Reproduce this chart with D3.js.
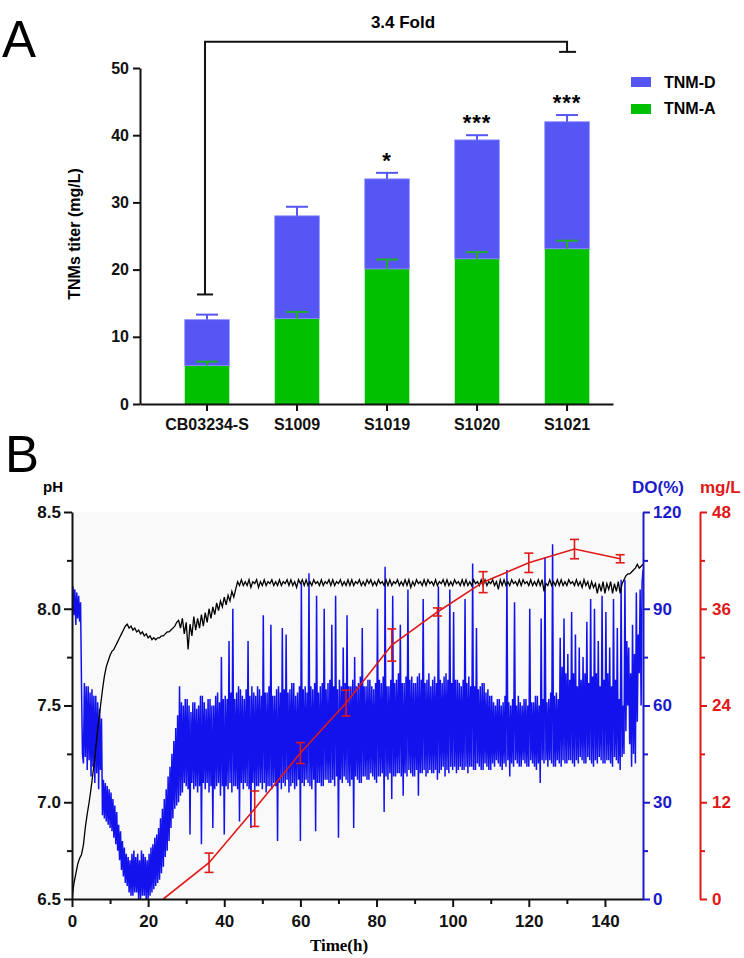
<!DOCTYPE html>
<html><head><meta charset="utf-8">
<script src="https://cdn.jsdelivr.net/npm/d3@7"></script>
<style>
body{margin:0;background:#fff}
svg{display:block}
text{font-family:"Liberation Sans",Arial,sans-serif}
</style>
</head><body>
<svg id="c" width="744" height="958"></svg>
<script>
// ---------- Panel A data ----------
const categories = ["CB03234-S","S1009","S1019","S1020","S1021"];
const tnmA     = [5.7, 12.7, 20.1, 21.6, 23.1];
const tnmAErr  = [0.6, 1.0, 1.4, 1.0, 1.2];
const tnmD     = [6.85, 15.3, 13.4, 17.7, 18.9];
const tnmDErr  = [0.75, 1.35, 0.9, 0.7, 1.0];
const significance = ["", "", "*", "***", "***"];
const yTicksA = [0,10,20,30,40,50];
const seriesNamesA = ["TNM-D","TNM-A"];
const foldFrom = "CB03234-S", foldTo = "S1021", foldLabel = "3.4 Fold";
const foldTop = 53.9, foldLeftEnd = 16.3, foldRightEnd = 52.4;

// ---------- Panel B data ----------
const pHStep = 0.5;   // h between pH samples
const doStep = 0.25;  // h between DO samples
const pH = [
6.50,6.58,6.63,6.68,6.71,6.73,6.78,6.87,6.94,7.00,
7.07,7.15,7.23,7.33,7.42,7.50,7.58,7.65,7.70,7.73,
7.76,7.78,7.79,7.81,7.83,7.85,7.87,7.89,7.91,7.92,
7.90,7.91,7.89,7.90,7.88,7.89,7.87,7.88,7.86,7.87,
7.85,7.86,7.84,7.85,7.84,7.85,7.85,7.86,7.86,7.87,
7.88,7.88,7.89,7.90,7.91,7.93,7.94,7.90,7.95,7.87,
7.93,7.79,7.92,7.86,7.96,7.89,7.95,7.90,7.97,7.91,
7.98,7.93,8.00,7.95,8.01,7.97,8.03,7.99,8.04,8.01,
8.06,8.02,8.07,8.04,8.09,8.06,8.10,8.14,8.12,8.15,
8.12,8.14,8.12,8.15,8.11,8.14,8.13,8.15,8.11,8.14,
8.12,8.15,8.12,8.14,8.13,8.15,8.12,8.14,8.12,8.15,
8.12,8.14,8.13,8.15,8.12,8.15,8.12,8.14,8.11,8.15,
8.13,8.15,8.12,8.15,8.12,8.14,8.12,8.15,8.13,8.14,
8.12,8.15,8.12,8.14,8.13,8.15,8.12,8.15,8.12,8.14,
8.13,8.15,8.12,8.14,8.12,8.15,8.12,8.15,8.12,8.14,
8.13,8.15,8.12,8.14,8.12,8.15,8.13,8.15,8.12,8.14,
8.12,8.15,8.13,8.14,8.12,8.15,8.12,8.15,8.12,8.14,
8.13,8.15,8.12,8.14,8.12,8.15,8.12,8.15,8.11,8.14,
8.12,8.15,8.13,8.14,8.12,8.15,8.12,8.15,8.13,8.14,
8.12,8.15,8.12,8.14,8.13,8.15,8.12,8.15,8.12,8.14,
8.12,8.15,8.13,8.14,8.12,8.15,8.12,8.15,8.12,8.14,
8.12,8.15,8.13,8.14,8.12,8.15,8.12,8.15,8.12,8.14,
8.13,8.15,8.12,8.14,8.10,8.15,8.12,8.15,8.12,8.14,
8.12,8.15,8.13,8.14,8.12,8.15,8.12,8.15,8.13,8.14,
8.12,8.15,8.12,8.14,8.12,8.15,8.12,8.15,8.09,8.13,
8.12,8.15,8.12,8.14,8.12,8.15,8.12,8.15,8.12,8.14,
8.12,8.15,8.13,8.14,8.12,8.15,8.12,8.14,8.11,8.15,
8.12,8.14,8.10,8.14,8.11,8.13,8.08,8.13,8.09,8.14,
8.08,8.13,8.10,8.14,8.08,8.13,8.09,8.14,8.08,8.13,
8.15,8.17,8.18,8.18,8.19,8.20,8.21,8.23,8.21,8.22,
8.23];
const DO = [
90,97,88,96,85,95,87,94,86,92,66,45,42,67,44,66,40,66,43,64,
38,65,41,63,36,63,39,61,34,59,40,56,26,37,25,36,24,35,23,34,
22,33,21,31,19,29,17,27,15,23,12,21,9,18,7,16,5,14,4,13,
2,12,1,14,1,15,2,13,2,14,0,12,0,15,1,14,1,13,0,12,
0,14,1,16,2,17,3,19,4,20,5,22,6,25,8,28,10,31,13,34,
15,38,18,41,22,45,25,49,28,53,29,57,30,66,32,61,33,60,36,62,
35,62,34,60,20,58,36,61,34,61,35,59,33,60,35,63,17,63,36,61,
34,59,36,62,33,62,35,60,22,60,34,63,35,64,36,61,32,75,35,62,
20,63,35,62,34,80,36,64,33,90,35,62,35,64,34,66,24,65,36,63,
34,62,36,65,35,80,34,63,22,66,36,64,33,63,35,66,35,65,36,63,
34,88,36,64,33,64,35,66,35,85,34,63,36,63,35,65,18,66,36,64,
34,84,36,65,35,82,37,64,33,65,35,67,36,67,34,63,35,64,37,66,
18,98,36,65,35,66,37,64,36,101,35,66,34,65,37,67,21,94,36,64,
36,66,35,67,35,90,37,65,37,67,36,68,36,85,37,66,35,94,38,65,
19,68,37,66,36,78,38,67,37,88,36,66,35,66,37,68,22,75,38,66,
37,67,36,69,36,84,38,66,38,66,37,68,37,68,39,66,38,65,37,67,
36,90,38,68,38,67,39,69,27,103,38,66,37,66,39,68,31,94,38,67,
38,68,39,70,39,85,38,67,32,67,39,69,38,96,40,68,39,69,38,67,
38,67,40,69,32,70,39,68,39,93,40,67,38,68,39,70,40,66,39,68,
39,69,40,67,37,97,39,68,40,67,41,69,38,70,40,68,39,96,41,67,
40,89,41,68,39,68,40,67,41,66,40,68,40,93,41,67,39,69,41,66,
41,104,40,66,40,84,42,65,41,66,40,67,40,67,42,64,41,65,40,63,
40,63,42,61,41,60,43,62,42,62,41,60,40,61,42,63,41,102,43,61,
38,60,42,62,41,92,43,60,42,63,41,61,41,60,43,62,42,62,41,60,
41,90,43,61,42,61,41,63,40,63,42,60,36,87,43,62,42,106,43,61,
41,62,43,64,42,110,41,63,41,64,43,62,42,81,41,72,43,87,42,70,
42,76,43,68,43,89,42,70,41,82,43,66,42,78,44,68,43,75,42,70,
42,86,44,67,43,93,42,69,41,90,43,70,42,80,44,66,43,94,42,68,
42,89,43,70,43,78,42,66,41,93,44,68,43,84,42,62,40,99,44,60,
45,99,52,80,60,78,48,70,41,85,45,76,42,95,55,82,70,96,60,98,
102];
const titerTime = [24,36,48,60,72,84,96,108,120,132,144];
const titerVal  = [0,4.5,11.2,18.1,24.3,31.5,35.6,39.3,41.7,43.4,42.2];
const titerErr  = [0,1.2,2.2,1.3,1.6,2.0,0.5,1.3,1.2,1.2,0.5];
const timeTicks = [0,20,40,60,80,100,120,140];
const timeMinor = [10,30,50,70,90,110,130];
const pHTicks = [6.5,7.0,7.5,8.0,8.5];
const pHMinor = [6.75,7.25,7.75,8.25];
const DOTicks = [0,30,60,90,120];
const DOMinor = [15,45,75,105];
const mgTicks = [0,12,24,36,48];
const mgMinor = [6,18,30,42];

// ---------- styles ----------
const cBlueBar = "#5656f4", cGreen = "#00c000", cGreenErr = "#1fae2a";
const cDO = "#1212ec", cDOAxis = "#1a1acc", cRed = "#e01818";
const svg = d3.select("#c");

// ================= Panel A =================
const yA = d3.scaleLinear().domain([0,50]).range([404,68]);
const xA = d3.scaleBand().domain(categories).range([140,613])
  .paddingInner(0.505).paddingOuter(0.38).align(0.654);
const rows = categories.map((c,i)=>({c,a:tnmA[i],aE:tnmAErr[i],d:tnmD[i],dE:tnmDErr[i],sig:significance[i]}));
const gA = svg.append("g");
const cx = c => xA(c) + xA.bandwidth()/2;

gA.selectAll(".barA").data(rows).join("rect")
  .attr("x",d=>xA(d.c)).attr("width",xA.bandwidth())
  .attr("y",d=>yA(d.a)).attr("height",d=>yA(0)-yA(d.a)).attr("fill",cGreen);
gA.selectAll(".barD").data(rows).join("rect")
  .attr("x",d=>xA(d.c)).attr("width",xA.bandwidth())
  .attr("y",d=>yA(d.a+d.d)).attr("height",d=>yA(d.a)-yA(d.a+d.d)).attr("fill",cBlueBar)
  .attr("stroke","#8a8aff").attr("stroke-width",0.8);
function errBar(g, x, y0, y1, color){
  g.append("line").attr("x1",x).attr("x2",x).attr("y1",y0).attr("y2",y1).attr("stroke",color).attr("stroke-width",2);
  g.append("line").attr("x1",x-11).attr("x2",x+11).attr("y1",y1).attr("y2",y1).attr("stroke",color).attr("stroke-width",2);
}
rows.forEach(d=>{
  errBar(gA, cx(d.c), yA(d.a+d.d), yA(d.a+d.d+d.dE), cBlueBar);
  errBar(gA, cx(d.c), yA(d.a), yA(d.a+d.aE), cGreenErr);
  if(d.sig){
    gA.append("text").attr("x",cx(d.c)).attr("y",yA(d.a+d.d+d.dE)-5)
      .attr("text-anchor","middle").attr("font-size",22).attr("font-weight","bold")
      .attr("letter-spacing",1).text(d.sig);
  }
});
const axYA = gA.append("g").attr("transform","translate(140,0)")
  .call(d3.axisLeft(yA).tickValues(yTicksA).tickSize(7).tickSizeOuter(0).tickPadding(4));
const axXA = gA.append("g").attr("transform","translate(0,404)")
  .call(d3.axisBottom(xA).tickSize(7).tickSizeOuter(0).tickPadding(8));
[axYA,axXA].forEach(a=>{
  a.selectAll("path,line").attr("stroke","#111").attr("stroke-width",2);
  a.selectAll("text").attr("font-size",16).attr("font-weight","bold").attr("fill","#111")
   .attr("font-family","'Liberation Sans',Arial,sans-serif");
});
gA.append("text").attr("transform","translate(80,234) rotate(-90)")
  .attr("text-anchor","middle").attr("font-size",16).attr("font-weight","bold").text("TNMs titer (mg/L)");
const bx0 = cx(foldFrom)-2, bx1 = cx(foldTo);
gA.append("path").attr("fill","none").attr("stroke","#111").attr("stroke-width",2)
  .attr("d",`M${bx0},${yA(foldLeftEnd)}V${yA(foldTop)}H${bx1}V${yA(foldRightEnd)}`);
gA.append("line").attr("x1",bx0-8).attr("x2",bx0+8).attr("y1",yA(foldLeftEnd)).attr("y2",yA(foldLeftEnd)).attr("stroke","#111").attr("stroke-width",2);
gA.append("line").attr("x1",bx1-8).attr("x2",bx1+9).attr("y1",yA(foldRightEnd)).attr("y2",yA(foldRightEnd)).attr("stroke","#111").attr("stroke-width",2);
gA.append("text").attr("x",403).attr("y",28).attr("text-anchor","middle")
  .attr("font-size",17).attr("font-weight","bold").text(foldLabel);
const legColors = [cBlueBar, cGreen];
seriesNamesA.forEach((n,i)=>{
  gA.append("rect").attr("x",631).attr("y",77+i*27).attr("width",20).attr("height",10).attr("fill",legColors[i]);
  gA.append("text").attr("x",664).attr("y",88+i*26).attr("font-size",16).attr("font-weight","bold").text(n);
});
svg.append("text").attr("x",2).attr("y",57).attr("font-size",51).text("A");

// ================= Panel B =================
const xB = d3.scaleLinear().domain([0,150]).range([72,643]);
const yPH = d3.scaleLinear().domain([6.5,8.5]).range([899,512]);
const yDO = d3.scaleLinear().domain([0,120]).range([899,512]);
const yMg = d3.scaleLinear().domain([0,48]).range([899,512]);
const gB = svg.append("g");
gB.append("rect").attr("x",72).attr("y",512).attr("width",571).attr("height",387).attr("fill","#f9f9f9");
svg.append("defs").append("clipPath").attr("id","clipB").append("rect")
  .attr("x",72).attr("y",505).attr("width",572).attr("height",394);

const gLines = gB.append("g").attr("clip-path","url(#clipB)");
gLines.append("path").datum(DO).attr("fill","none").attr("stroke",cDO).attr("stroke-width",1.5)
  .attr("stroke-linejoin","bevel")
  .attr("d",d3.line().x((d,i)=>xB(i*doStep)).y(d=>yDO(d)));
gLines.append("path").datum(pH).attr("fill","none").attr("stroke","#000").attr("stroke-width",1.3)
  .attr("d",d3.line().x((d,i)=>xB(i*pHStep)).y(d=>yPH(d)));
const titer = titerTime.map((t,i)=>({t,v:titerVal[i],e:titerErr[i]}));
gLines.append("path").datum(titer).attr("fill","none").attr("stroke",cRed).attr("stroke-width",1.6)
  .attr("d",d3.line().x(d=>xB(d.t)).y(d=>yMg(d.v)));
titer.filter(d=>d.e>0).forEach(d=>{
  const x=xB(d.t), y0=yMg(d.v-d.e), y1=yMg(d.v+d.e);
  gLines.append("line").attr("x1",x).attr("x2",x).attr("y1",y0).attr("y2",y1).attr("stroke",cRed).attr("stroke-width",1.6);
  [y0,y1].forEach(y=>gLines.append("line").attr("x1",x-4.5).attr("x2",x+4.5).attr("y1",y).attr("y2",y).attr("stroke",cRed).attr("stroke-width",1.6));
});

function styleAxis(a, color, fs){
  a.selectAll("path,line").attr("stroke",color).attr("stroke-width",2);
  a.selectAll("text").attr("font-size",fs).attr("font-weight","bold").attr("fill",color)
   .attr("font-family","'Liberation Sans',Arial,sans-serif");
}
const axPH = gB.append("g").attr("transform","translate(72,0)")
  .call(d3.axisLeft(yPH).tickValues(pHTicks).tickFormat(d3.format(".1f")).tickSize(8).tickSizeOuter(0).tickPadding(3));
styleAxis(axPH,"#111",17);
const axPHm = gB.append("g").attr("transform","translate(72,0)")
  .call(d3.axisLeft(yPH).tickValues(pHMinor).tickFormat("").tickSize(5).tickSizeOuter(0));
styleAxis(axPHm,"#111",17); axPHm.select(".domain").remove();
const axT = gB.append("g").attr("transform","translate(0,899)")
  .call(d3.axisBottom(xB).tickValues(timeTicks).tickSize(8).tickSizeOuter(0).tickPadding(8));
styleAxis(axT,"#111",17);
const axTm = gB.append("g").attr("transform","translate(0,899)")
  .call(d3.axisBottom(xB).tickValues(timeMinor).tickFormat("").tickSize(5).tickSizeOuter(0));
styleAxis(axTm,"#111",17); axTm.select(".domain").remove();
const axDO = gB.append("g").attr("transform","translate(643,0)")
  .call(d3.axisRight(yDO).tickValues(DOTicks).tickSize(7).tickSizeOuter(0).tickPadding(3));
styleAxis(axDO,cDOAxis,17);
const axDOm = gB.append("g").attr("transform","translate(643,0)")
  .call(d3.axisRight(yDO).tickValues(DOMinor).tickFormat("").tickSize(5).tickSizeOuter(0));
styleAxis(axDOm,cDOAxis,17); axDOm.select(".domain").remove();
const axMg = gB.append("g").attr("transform","translate(700,0)")
  .call(d3.axisRight(yMg).tickValues(mgTicks).tickSize(7).tickSizeOuter(0).tickPadding(5));
styleAxis(axMg,cRed,17);
const axMgm = gB.append("g").attr("transform","translate(700,0)")
  .call(d3.axisRight(yMg).tickValues(mgMinor).tickFormat("").tickSize(5).tickSizeOuter(0));
styleAxis(axMgm,cRed,17); axMgm.select(".domain").remove();

gB.append("text").attr("x",43).attr("y",492).attr("font-size",15).attr("font-weight","bold").text("pH");
gB.append("text").attr("x",632).attr("y",493).attr("font-size",17).attr("font-weight","bold").attr("fill",cDOAxis).text("DO(%)");
gB.append("text").attr("x",700).attr("y",493).attr("font-size",17).attr("font-weight","bold").attr("fill",cRed).text("mg/L");
gB.append("text").attr("x",339).attr("y",951).attr("text-anchor","middle").attr("font-size",17)
  .attr("font-weight","bold").style("font-family","'Liberation Serif','Times New Roman',serif").text("Time(h)");
svg.append("text").attr("x",5).attr("y",472).attr("font-size",51).text("B");
</script>
</body></html>
